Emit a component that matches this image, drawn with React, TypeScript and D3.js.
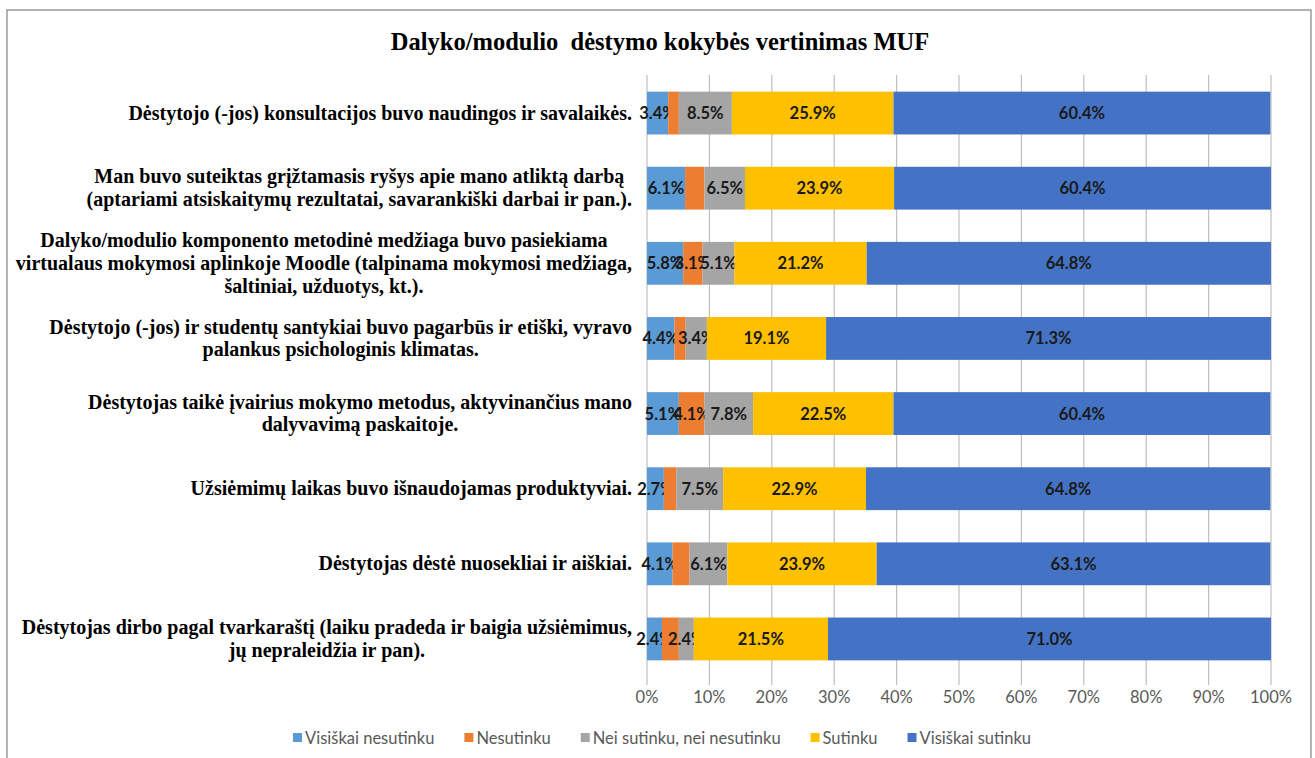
import * as d3 from 'd3'
import React, { useEffect, useRef } from 'react'

const title = 'Dalyko/modulio  dėstymo kokybės vertinimas MUF'

const categories = [
  ['Dėstytojo (-jos) konsultacijos buvo naudingos ir savalaikės.'],
  ['Man buvo suteiktas grįžtamasis ryšys apie mano atliktą darbą', '(aptariami atsiskaitymų rezultatai, savarankiški darbai ir pan.).'],
  ['Dalyko/modulio komponento metodinė medžiaga buvo pasiekiama', 'virtualaus mokymosi aplinkoje Moodle (talpinama mokymosi medžiaga,', 'šaltiniai, užduotys, kt.).'],
  ['Dėstytojo (-jos) ir studentų santykiai buvo pagarbūs ir etiški, vyravo', 'palankus psichologinis klimatas.'],
  ['Dėstytojas taikė įvairius mokymo metodus, aktyvinančius mano', 'dalyvavimą paskaitoje.'],
  ['Užsiėmimų laikas buvo išnaudojamas produktyviai.'],
  ['Dėstytojas dėstė nuosekliai ir aiškiai.'],
  ['Dėstytojas dirbo pagal tvarkaraštį (laiku pradeda ir baigia užsiėmimus,', 'jų nepraleidžia ir pan).'],
]

const seriesNames = ['Visiškai nesutinku', 'Nesutinku', 'Nei sutinku, nei nesutinku', 'Sutinku', 'Visiškai sutinku']
const colors = ['#5B9BD5', '#ED7D31', '#A5A5A5', '#FFC000', '#4472C4']

const visiskaiNesutinku = [3.4, 6.1, 5.8, 4.4, 5.1, 2.7, 4.1, 2.4]
const nesutinku = [1.7, 3.1, 3.1, 1.8, 4.1, 2.0, 2.7, 2.7]
const neiSutinku = [8.5, 6.5, 5.1, 3.4, 7.8, 7.5, 6.1, 2.4]
const sutinku = [25.9, 23.9, 21.2, 19.1, 22.5, 22.9, 23.9, 21.5]
const visiskaiSutinku = [60.4, 60.4, 64.8, 71.3, 60.4, 64.8, 63.1, 71.0]

// which "Nesutinku" labels are shown in the original
const nesutinkuLabelShown = [false, false, true, false, true, false, false, false]

const ticks = [0, 10, 20, 30, 40, 50, 60, 70, 80, 90, 100]

const W = 1315
const H = 758
const serif = "'Liberation Serif', 'Times New Roman', Tinos, 'DejaVu Serif', serif"
const sans = "Lato, 'Open Sans', sans-serif"

const App = () => {
  const ref = useRef<SVGSVGElement>(null)

  useEffect(() => {
    const svg = d3.select(ref.current)
    svg.selectAll('*').remove()

    const series = [visiskaiNesutinku, nesutinku, neiSutinku, sutinku, visiskaiSutinku]

    const x = d3.scaleLinear().domain([0, 100]).range([647, 1271])
    const y = d3.scaleBand<number>()
      .domain(d3.range(categories.length))
      .range([75.5, 676.5])
      .paddingInner(0.43)
      .paddingOuter(0.215)

    svg.append('rect')
      .attr('x', 7).attr('y', 10).attr('width', 1304).attr('height', 760)
      .attr('fill', '#fff').attr('stroke', '#8c8c8c').attr('stroke-width', 1.3)

    svg.append('text')
      .attr('x', 660).attr('y', 50)
      .attr('text-anchor', 'middle')
      .style('font-family', serif)
      .attr('font-weight', 'bold').attr('font-size', 24.5)
      .style('white-space', 'pre')
      .text(title)

    // gridlines
    svg.append('g').selectAll('line').data(ticks).join('line')
      .attr('x1', d => x(d)).attr('x2', d => x(d))
      .attr('y1', 75).attr('y2', 685)
      .attr('stroke', '#bfbfbf').attr('stroke-width', 1.2)

    svg.append('g').selectAll('text').data(ticks).join('text')
      .attr('x', d => x(d)).attr('y', 703)
      .attr('text-anchor', 'middle')
      .style('font-family', sans)
      .attr('font-size', 16.5).attr('fill', '#595959')
      .text(d => d + '%')

    // stacked bars
    categories.forEach((_, i) => {
      let acc = 0
      series.forEach((s, j) => {
        const v = s[i]
        const x0 = x(acc)
        const x1 = x(acc + v)
        acc += v
        svg.append('rect')
          .attr('x', x0).attr('y', y(i)!)
          .attr('width', x1 - x0).attr('height', y.bandwidth())
          .attr('fill', colors[j])
        if (j === 1 && !nesutinkuLabelShown[i]) return
        svg.append('text')
          .attr('x', (x0 + x1) / 2).attr('y', y(i)! + y.bandwidth() / 2 + 6)
          .attr('text-anchor', 'middle')
          .style('font-family', sans)
          .attr('font-weight', 'bold').attr('font-size', 16.5)
          .attr('fill', '#1a1a1a')
          .text(v.toFixed(1) + '%')
      })
    })

    // category labels: block right aligned, lines centered in block
    const lh = 22.8
    categories.forEach((lines, i) => {
      const g = svg.append('g')
      const cy = y(i)! + y.bandwidth() / 2
      const texts = lines.map((l, k) => g.append('text')
        .attr('y', cy + (k - (lines.length - 1) / 2) * lh + 6.5)
        .attr('text-anchor', 'middle')
        .style('font-family', serif)
        .attr('font-weight', 'bold').attr('font-size', 20)
        .attr('fill', '#000')
        .text(l))
      const widths = texts.map(t => (t.node() as SVGTextElement).getComputedTextLength())
      const maxW = d3.max(widths) || 0
      const right = 632
      texts.forEach(t => t.attr('x', right - maxW / 2))
    })

    // legend
    const lg = svg.append('g')
    let lx = 0
    seriesNames.forEach((name, j) => {
      lg.append('rect').attr('x', lx).attr('y', 733).attr('width', 9).attr('height', 9).attr('fill', colors[j])
      const t = lg.append('text')
        .attr('x', lx + 12).attr('y', 744)
        .style('font-family', sans)
        .attr('font-size', 16.5).attr('fill', '#595959')
        .text(name)
      lx += 12 + (t.node() as SVGTextElement).getComputedTextLength() + 30
    })
    const total = lx - 30
    lg.attr('transform', `translate(${662 - total / 2},0)`)
  }, [])

  return (
    <svg ref={ref} width={W} height={H} style={{ display: 'block', position: 'absolute', left: 0, top: 0 }} />
  )
}

export default App
